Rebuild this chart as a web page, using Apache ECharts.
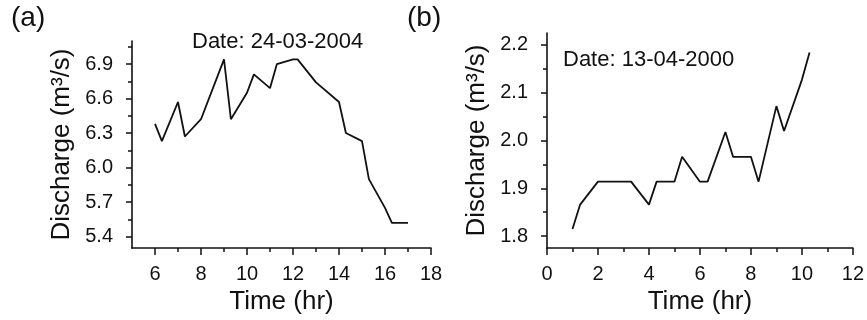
<!DOCTYPE html>
<html>
<head>
<meta charset="utf-8">
<script src="https://cdn.jsdelivr.net/npm/echarts@6/dist/echarts.min.js"></script>
<style>
  html, body { margin: 0; padding: 0; background: #fff; }
  #chart { width: 867px; height: 320px; }
</style>
</head>
<body>
<div id="chart"></div>
<script>
// panel (a) – 24-03-2004
const timeA = [6, 6.3, 7, 7.3, 8, 9, 9.3, 10, 10.3, 11, 11.3, 12, 12.2, 13, 14, 14.3, 15, 15.3, 16, 16.3, 17];
const dischargeA = [6.38, 6.23, 6.57, 6.27, 6.42, 6.94, 6.42, 6.65, 6.81, 6.69, 6.9, 6.94, 6.94, 6.74, 6.57, 6.30, 6.23, 5.90, 5.65, 5.52, 5.52];
const xTicksA = [6, 8, 10, 12, 14, 16, 18];
const xMinorA = [7, 9, 11, 13, 15, 17];
const yTicksA = [5.4, 5.7, 6.0, 6.3, 6.6, 6.9];
const yMinorA = [5.55, 5.85, 6.15, 6.45, 6.75, 7.05];

// panel (b) – 13-04-2000
const timeB = [1, 1.3, 2, 3.3, 4, 4.3, 5, 5.3, 6, 6.3, 7, 7.3, 8, 8.3, 9, 9.3, 10, 10.3];
const dischargeB = [1.815, 1.866, 1.914, 1.914, 1.866, 1.914, 1.914, 1.966, 1.914, 1.914, 2.018, 1.966, 1.966, 1.914, 2.072, 2.02, 2.127, 2.184];
const xTicksB = [0, 2, 4, 6, 8, 10, 12];
const xMinorB = [1, 3, 5, 7, 9, 11];
const yTicksB = [1.8, 1.9, 2.0, 2.1, 2.2];
const yMinorB = [1.85, 1.95, 2.05, 2.15];

const font = 'Liberation Sans, Arial, sans-serif';
const black = '#111';

function zip(xs, ys) {
  return xs.map((x, i) => [x, ys[i]]);
}

// main axis with labels + long ticks
function mainX(grid, min, max, ticks) {
  return {
    type: 'value', gridIndex: grid, min: min, max: max,
    name: 'Time (hr)', nameLocation: 'middle', nameGap: 38,
    nameTextStyle: { fontFamily: font, fontSize: 26, color: black },
    axisLine: { show: true, onZero: false, lineStyle: { color: black, width: 1.6 } },
    axisTick: { show: true, length: 7, customValues: ticks, lineStyle: { color: black, width: 1.5 } },
    axisLabel: { customValues: ticks, margin: 16, fontFamily: font, fontSize: 20, color: black },
    splitLine: { show: false }
  };
}
// second axis, only short ticks
function minorX(grid, min, max, ticks) {
  return {
    type: 'value', gridIndex: grid, min: min, max: max, position: 'bottom',
    axisLine: { show: false },
    axisTick: { show: true, length: 4, customValues: ticks, lineStyle: { color: black, width: 1.5 } },
    axisLabel: { show: false },
    splitLine: { show: false }
  };
}
function mainY(grid, min, max, ticks, digits) {
  return {
    type: 'value', gridIndex: grid, min: min, max: max,
    name: 'Discharge (m³/s)', nameLocation: 'middle', nameGap: 57,
    nameTextStyle: { fontFamily: font, fontSize: 26, color: black },
    axisLine: { show: true, onZero: false, lineStyle: { color: black, width: 1.6 } },
    axisTick: { show: true, length: 6, customValues: ticks, lineStyle: { color: black, width: 1.5 } },
    axisLabel: {
      customValues: ticks, margin: 19, fontFamily: font, fontSize: 20, color: black,
      formatter: v => v.toFixed(digits)
    },
    splitLine: { show: false }
  };
}
function minorY(grid, min, max, ticks) {
  return {
    type: 'value', gridIndex: grid, min: min, max: max, position: 'left',
    axisLine: { show: false },
    axisTick: { show: true, length: 4, customValues: ticks, lineStyle: { color: black, width: 1.5 } },
    axisLabel: { show: false },
    splitLine: { show: false }
  };
}

const chart = echarts.init(document.getElementById('chart'));

const option = {
  backgroundColor: '#fff',
  animation: false,
  grid: [
    { left: 132, right: 436, top: 41, bottom: 69 },
    { left: 547, right: 13, top: 33, bottom: 71 }
  ],
  xAxis: [
    mainX(0, 5, 18, xTicksA),
    minorX(0, 5, 18, xMinorA),
    mainX(1, 0, 12, xTicksB),
    minorX(1, 0, 12, xMinorB)
  ],
  yAxis: [
    mainY(0, 5.3, 7.1, yTicksA, 1),
    minorY(0, 5.3, 7.1, yMinorA),
    mainY(1, 1.775, 2.225, yTicksB, 1),
    minorY(1, 1.775, 2.225, yMinorB)
  ],
  graphic: [
    { type: 'text', left: 11, top: 4, style: { text: '(a)', font: '28px ' + font, fill: black } },
    { type: 'text', left: 407, top: 4, style: { text: '(b)', font: '28px ' + font, fill: black } },
    { type: 'text', left: 192, top: 31, style: { text: 'Date: 24-03-2004', font: '22px ' + font, fill: black } },
    { type: 'text', left: 563, top: 49, style: { text: 'Date: 13-04-2000', font: '22px ' + font, fill: black } }
  ],
  series: [
    {
      type: 'line', xAxisIndex: 0, yAxisIndex: 0,
      data: zip(timeA, dischargeA), showSymbol: false,
      lineStyle: { color: black, width: 1.8 }
    },
    {
      type: 'line', xAxisIndex: 2, yAxisIndex: 2,
      data: zip(timeB, dischargeB), showSymbol: false,
      lineStyle: { color: black, width: 1.8 }
    }
  ]
};

chart.setOption(option);
</script>
</body>
</html>
